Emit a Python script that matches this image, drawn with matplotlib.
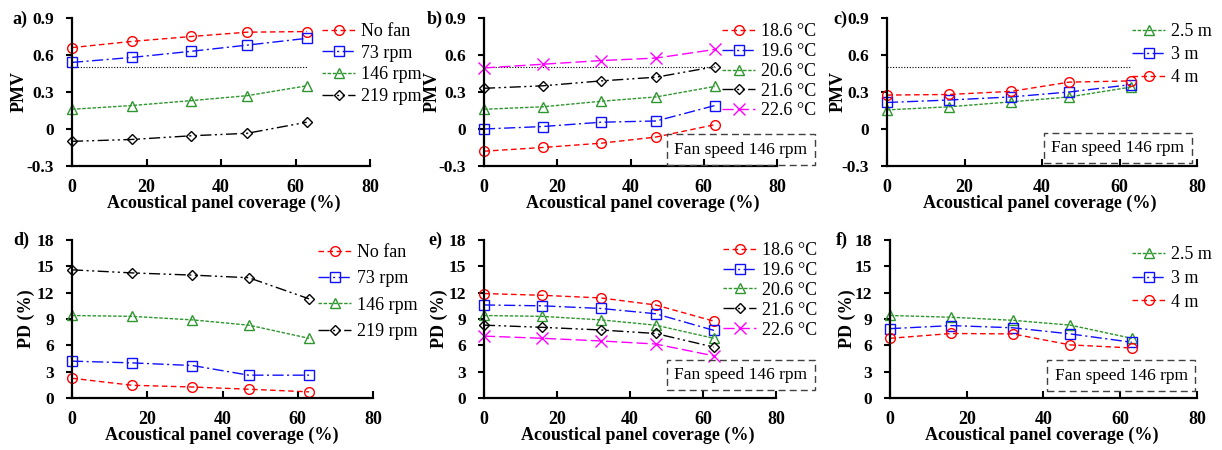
import matplotlib
matplotlib.use('Agg')
import matplotlib.pyplot as plt

plt.rcParams['font.family'] = ['Liberation Serif', 'DejaVu Serif']
plt.rcParams['font.weight'] = 'bold'
plt.rcParams['axes.unicode_minus'] = False

# ---------------- data ----------------
coverage = [0, 16, 32, 47, 63]
x_ticks = [0, 20, 40, 60, 80]
pmv_ticks = [-0.3, 0, 0.3, 0.6, 0.9]
pmv_tick_labels = ['-0.3', '0', '0.3', '0.6', '0.9']
pd_ticks = [0, 3, 6, 9, 12, 15, 18]
pd_tick_labels = ['0', '3', '6', '9', '12', '15', '18']
pmv_limit = 0.5

fan_labels = ['No fan', '73 rpm', '146 rpm', '219 rpm']
temp_labels = ['18.6 °C', '19.6 °C', '20.6 °C', '21.6 °C', '22.6 °C']
height_labels = ['2.5 m', '3 m', '4 m']
box_text = 'Fan speed 146 rpm'

# a) PMV vs fan speed
pmv_nofan = [0.66, 0.71, 0.75, 0.785, 0.79]
pmv_73 = [0.54, 0.58, 0.63, 0.68, 0.735]
pmv_146 = [0.16, 0.19, 0.23, 0.27, 0.35]
pmv_219 = [-0.10, -0.085, -0.055, -0.035, 0.055]
# b) PMV vs supply temperature
pmv_186 = [-0.18, -0.15, -0.115, -0.065, 0.035]
pmv_196 = [0.0, 0.02, 0.055, 0.065, 0.19]
pmv_206 = [0.16, 0.18, 0.225, 0.26, 0.345]
pmv_216 = [0.33, 0.35, 0.39, 0.42, 0.505]
pmv_226 = [0.495, 0.525, 0.555, 0.575, 0.645]
# c) PMV vs fan height
pmv_25m = [0.155, 0.18, 0.22, 0.26, 0.34]
pmv_3m = [0.215, 0.235, 0.26, 0.30, 0.36]
pmv_4m = [0.275, 0.28, 0.305, 0.38, 0.39]
# d) PD vs fan speed
pd_nofan = [2.25, 1.45, 1.25, 1.0, 0.7]
pd_73 = [4.2, 4.0, 3.7, 2.6, 2.6]
pd_146 = [9.4, 9.3, 8.9, 8.3, 6.8]
pd_219 = [14.6, 14.25, 14.0, 13.7, 11.3]
# e) PD vs supply temperature
pd_186 = [11.9, 11.7, 11.4, 10.6, 8.75]
pd_196 = [10.6, 10.5, 10.2, 9.6, 7.7]
pd_206 = [9.4, 9.3, 8.9, 8.3, 6.8]
pd_216 = [8.3, 8.05, 7.75, 7.35, 5.8]
pd_226 = [7.05, 6.8, 6.5, 6.15, 4.8]
# f) PD vs fan height
pd_25m = [9.4, 9.2, 8.85, 8.3, 6.8]
pd_3m = [7.9, 8.25, 8.0, 7.3, 6.35]
pd_4m = [6.8, 7.35, 7.3, 6.05, 5.7]

# ---------------- styles ----------------
RED = dict(color='#FF0000', ls=(0, (4, 2.5)), marker='o', ms=7)
BLUE = dict(color='#1010FF', ls=(0, (8, 2.5, 1.5, 2.5)), marker='s', ms=7)
GREEN = dict(color='#2E962E', ls=(0, (2.5, 1.2)), marker='^', ms=7.5)
BLACK = dict(color='black', ls=(0, (8, 2.5, 1.5, 2.5, 1.5, 2.5)), marker='D', ms=5)
MAGENTA = dict(color='#FF00FF', ls=(0, (8, 3)), marker='x', ms=8)

W, H = 1222, 450
fig = plt.figure(figsize=(W / 100, H / 100), dpi=100)


def px_axes(l, r, t, b):
    return fig.add_axes([l / W, 1 - b / H, (r - l) / W, (b - t) / H])


def fx(x):
    return x / W


def fy(y):
    return 1 - y / H


def style_axes(ax, yticks, ylabels, ylim):
    ax.set_xlim(0, 80)
    ax.set_ylim(*ylim)
    ax.set_xticks(x_ticks)
    ax.set_xticklabels([str(v) for v in x_ticks])
    ax.set_yticks(yticks)
    ax.set_yticklabels(ylabels)
    for s in ['top', 'right']:
        ax.spines[s].set_visible(False)
    for s in ['left', 'bottom']:
        ax.spines[s].set_linewidth(1.6)
    ax.tick_params(axis='x', direction='in', length=5, width=1.5, pad=9.5, labelsize=13)
    ax.tick_params(axis='y', direction='out', length=4, width=1.5, pad=9, labelsize=12.5)


def plot_series(ax, ys, styles, labels):
    handles = []
    for y, st, lab in zip(ys, styles, labels):
        h, = ax.plot(coverage, y, color=st['color'], ls=st['ls'], lw=1.0,
                     marker=st['marker'], ms=st['ms'], mfc='none',
                     mec=st['color'], mew=1.0, label=lab, clip_on=False)
        handles.append(h)
    return handles


def add_legend(ax, handles, labels, x, ytop, spacing):
    leg = ax.legend(handles, labels, loc='upper left',
                    bbox_to_anchor=(fx(x), fy(ytop)), bbox_transform=fig.transFigure,
                    frameon=False, handlelength=1.83, handletextpad=0.33,
                    labelspacing=spacing, borderpad=0, borderaxespad=0,
                    prop={'size': 13, 'weight': 'normal'})
    leg.set_zorder(5)


def add_box(ax, x, y):
    ax.text(x, y, box_text, transform=ax.transAxes, ha='center', va='center',
            fontsize=12.5, fontweight='normal', zorder=6, clip_on=False,
            bbox=dict(boxstyle='square,pad=0.42', fc='none', ec='#404040',
                      ls=(0, (5, 3)), lw=1.0))


def limit_line(ax):
    ax.plot([coverage[0], coverage[-1]], [pmv_limit, pmv_limit], color='black',
            ls=(0, (1, 1.5)), lw=0.8)


panels = [
    # (l, r, t, b)
    (72, 370, 18, 166),
    (484, 777, 18, 166),
    (887, 1197, 18, 166),
    (72, 373, 240, 398),
    (484, 776, 240, 398),
    (890, 1197, 240, 398),
]
axes = [px_axes(*p) for p in panels]
axA, axB, axC, axD, axE, axF = axes

for ax in (axA, axB, axC):
    style_axes(ax, pmv_ticks, pmv_tick_labels, (-0.3, 0.9))
for ax in (axD, axE, axF):
    style_axes(ax, pd_ticks, pd_tick_labels, (0, 18))

# a
limit_line(axA)
h = plot_series(axA, [pmv_nofan, pmv_73, pmv_146, pmv_219], [RED, BLUE, GREEN, BLACK], fan_labels)
add_legend(axA, h, fan_labels, 322, 23, 0.26)
# b
limit_line(axB)
h = plot_series(axB, [pmv_186, pmv_196, pmv_206, pmv_216, pmv_226],
                [RED, BLUE, GREEN, BLACK, MAGENTA], temp_labels)
add_legend(axB, h, temp_labels, 722, 23.5, 0.15)
add_box(axB, 0.877, 0.111)
# c
limit_line(axC)
h = plot_series(axC, [pmv_25m, pmv_3m, pmv_4m], [GREEN, BLUE, RED], height_labels)
add_legend(axC, h, height_labels, 1132, 23, 0.33)
add_box(axC, 0.745, 0.122)
# d
h = plot_series(axD, [pd_nofan, pd_73, pd_146, pd_219], [RED, BLUE, GREEN, BLACK], fan_labels)
add_legend(axD, h, fan_labels, 318, 244, 0.52)
# e
h = plot_series(axE, [pd_186, pd_196, pd_206, pd_216, pd_226],
                [RED, BLUE, GREEN, BLACK, MAGENTA], temp_labels)
add_legend(axE, h, temp_labels, 723, 242, 0.16)
add_box(axE, 0.88, 0.146)
# f
h = plot_series(axF, [pd_25m, pd_3m, pd_4m], [GREEN, BLUE, RED], height_labels)
add_legend(axF, h, height_labels, 1132, 246, 0.38)
add_box(axF, 0.7525, 0.142)

# axis labels & panel letters
xlab = 'Acoustical panel coverage (%)'
for cx, cy in [(224, 203), (643, 203), (1040, 203), (222, 435), (638, 435), (1042, 435)]:
    fig.text(fx(cx), fy(cy), xlab, ha='center', va='center', fontsize=13, fontweight='bold')
for cx in (19, 432, 838):
    fig.text(fx(cx), fy(92), 'PMV', ha='center', va='center', rotation=90,
             fontsize=13, fontweight='bold')
for cx in (26, 439, 847):
    fig.text(fx(cx), fy(319), 'PD (%)', ha='center', va='center', rotation=90,
             fontsize=13, fontweight='bold')
for lab, cx, cy in [('a)', 20, 19), ('b)', 435, 19), ('c)', 840, 19),
                    ('d)', 21, 240), ('e)', 435, 240), ('f)', 842, 240)]:
    fig.text(fx(cx), fy(cy), lab, ha='center', va='center', fontsize=13, fontweight='bold')

fig.savefig('out.png', dpi=100)
